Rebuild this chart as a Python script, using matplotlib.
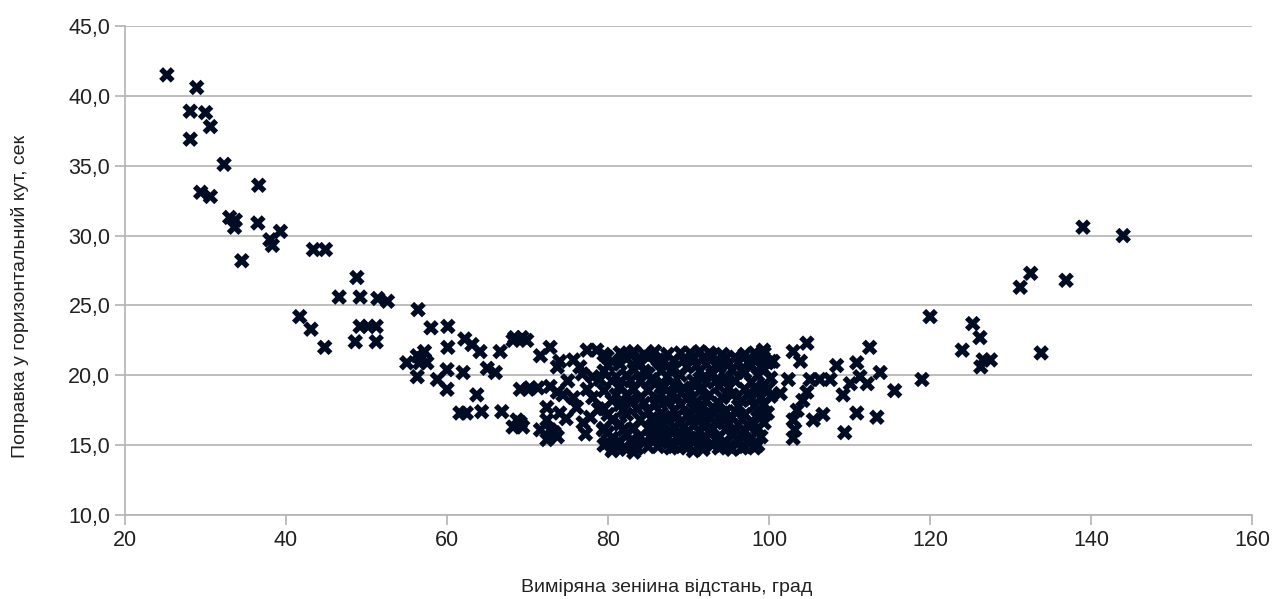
import matplotlib.pyplot as plt
from matplotlib.ticker import FuncFormatter

plt.rcParams['font.family'] = ['Liberation Sans', 'DejaVu Sans']

# measured zenith distance (deg) and horizontal angle correction (sec)
x_left = [25.2, 28.9, 28.1, 30.0, 30.6, 28.1, 32.3, 36.6, 29.4, 30.6, 33.0, 33.7, 33.6, 36.5,
          38.0, 38.3, 39.3, 34.5, 43.4, 44.9, 41.7, 43.1, 44.8, 46.6, 48.8, 49.2, 48.6, 49.2,
          50.2, 51.2, 51.4, 52.6, 51.2, 56.4]
y_left = [41.5, 40.6, 38.9, 38.8, 37.8, 36.9, 35.1, 33.6, 33.1, 32.8, 31.3, 31.1, 30.6, 30.9,
          29.7, 29.3, 30.3, 28.2, 29.0, 29.0, 24.2, 23.3, 22.0, 25.6, 27.0, 25.6, 22.4, 23.5,
          23.5, 23.5, 25.5, 25.3, 22.4, 24.7]

x_mid = [58.0, 60.1, 55.0, 56.3, 56.6, 57.5, 56.3, 62.2, 63.1, 64.1, 60.1, 60.0, 58.8, 60.0,
         62.0, 65.0, 66.0, 63.7, 61.6, 62.4, 64.3, 66.8, 69.1, 68.2, 69.9, 66.6, 69.1, 70.1,
         68.4, 69.3, 72.8, 71.6, 74.0, 73.7, 75.7, 77.4, 78.6, 79.9, 76.5, 70.3, 71.3, 72.8,
         73.7, 74.4, 75.7, 76.1, 77.4, 78.1, 79.0, 78.1, 77.8, 76.9, 68.7, 69.4, 68.2, 72.4,
         72.4, 72.8, 72.4, 73.7, 71.6, 74.0, 79.9, 79.4, 80.6, 57.2, 56.8, 73.3, 75.0, 76.8,
         78.8, 77.2, 74.8]
y_mid = [23.4, 23.5, 20.9, 21.4, 20.9, 20.9, 19.9, 22.6, 22.2, 21.7, 22.0, 20.4, 19.7, 19.0,
         20.2, 20.5, 20.2, 18.6, 17.3, 17.3, 17.4, 17.4, 16.6, 22.5, 22.5, 21.7, 19.0, 19.0,
         22.7, 22.7, 22.0, 21.4, 21.0, 20.6, 21.1, 21.8, 21.8, 21.3, 20.6, 19.1, 19.1, 19.2,
         18.8, 18.6, 18.4, 17.7, 19.0, 18.4, 19.7, 19.9, 17.0, 16.6, 16.8, 16.3, 16.3, 17.7,
         16.8, 16.1, 15.4, 15.6, 16.1, 17.3, 15.2, 16.1, 14.7, 21.7, 21.2, 15.9, 19.6, 20.1,
         17.6, 15.8, 16.9]

# dense cluster, column by column
cluster = {
    79.5: [21.5, 20.3, 18.9, 17.6, 16.2, 15.0],
    80.5: [21.0, 19.6, 18.2, 16.8, 15.5, 14.6],
    81.5: [21.6, 20.8, 19.2, 17.9, 16.5, 15.2],
    82.3: [21.2, 20.0, 18.6, 17.2, 15.8, 14.7],
    83.2: [21.7, 20.4, 19.0, 16.2, 15.0, 14.5],
    84.0: [20.8, 19.6, 18.4, 16.8, 15.6],
    85.0: [21.3, 20.1, 18.9, 17.4, 16.2, 14.9],
    85.8: [21.7, 19.4, 18.0, 16.6, 15.8],
    86.6: [20.3, 18.6, 17.3, 16.0, 15.2],
    87.4: [21.5, 19.9, 18.1, 16.8, 15.5],
    88.2: [21.0, 20.5, 19.3, 17.5, 16.3, 14.9],
    89.0: [21.6, 20.0, 17.9, 16.6, 15.3],
    89.8: [20.6, 18.3, 17.1, 15.9, 14.8],
    90.6: [21.3, 19.6, 17.6, 16.4, 15.2, 14.6],
    91.4: [21.7, 20.3, 18.9, 17.2, 16.0, 15.0],
    92.2: [20.8, 19.5, 18.2, 16.6, 15.5],
    93.0: [21.4, 20.1, 17.7, 16.2, 15.0],
    93.8: [20.6, 19.2, 18.0, 16.9, 15.6, 14.8],
    94.6: [21.2, 19.8, 17.4, 16.1, 15.2],
    95.4: [20.4, 18.6, 17.0, 15.8, 14.7],
    96.2: [20.9, 17.8, 16.5, 15.3],
    97.0: [21.5, 20.2, 19.0, 17.2, 16.0, 14.9],
    97.8: [20.7, 19.5, 18.3, 16.7, 15.5],
    98.6: [21.2, 20.0, 18.8, 17.5, 16.2, 15.0],
    99.4: [21.6, 20.4, 19.3, 17.9, 16.6],
    100.2: [21.0, 19.8, 18.5],
}
# second, offset set of cluster points
cluster2 = {
    80.0: [20.7, 17.2, 15.9],
    81.0: [19.9, 18.6, 15.0],
    81.9: [21.4, 17.5, 16.1],
    82.8: [19.6, 18.2, 15.3],
    83.6: [21.0, 17.6, 14.8],
    84.5: [21.5, 20.3, 18.0, 15.2],
    85.4: [19.7, 16.9, 15.5],
    86.2: [21.1, 18.3, 16.4, 14.9],
    87.0: [21.0, 19.2, 17.0, 15.8],
    87.8: [20.3, 18.6, 16.0, 14.8],
    88.6: [18.4, 17.1, 15.6],
    89.4: [21.1, 19.1, 16.3, 15.0],
    90.2: [21.6, 18.9, 17.3, 15.5],
    91.0: [20.7, 18.1, 16.8, 15.5],
    91.8: [21.2, 19.8, 17.8, 15.3, 14.7],
    92.6: [21.6, 18.6, 17.0, 15.9],
    93.4: [20.7, 19.6, 16.6, 15.4],
    94.2: [21.5, 18.4, 17.3, 15.0],
    95.0: [20.8, 19.1, 16.5, 14.9],
    95.8: [21.3, 19.6, 17.4, 16.1],
    96.6: [20.3, 18.2, 15.7, 14.8],
    97.4: [20.9, 18.6, 16.4, 15.2],
    98.2: [21.6, 19.1, 17.8, 14.8],
    99.0: [20.6, 18.4, 17.0, 15.6],
    99.8: [20.9, 19.0, 17.3],
}

x_right = [99.3, 100.5, 103.0, 104.7, 103.9, 102.4, 101.4, 105.1, 106.3, 107.6, 104.7, 104.2,
           103.5, 103.0, 103.2, 103.0, 105.5, 106.7, 108.4, 110.9, 112.5, 110.1, 109.2, 111.3,
           112.2, 113.8, 110.9, 113.4, 109.4, 115.6, 119.0, 120.0, 124.0, 125.3, 126.2, 126.6,
           126.3, 127.5, 131.2, 132.5, 133.8, 136.9, 139.0, 144.0]
y_right = [21.8, 21.0, 21.7, 22.3, 21.0, 19.7, 18.7, 19.7, 19.7, 19.7, 18.8, 18.2,
           17.5, 16.8, 16.1, 15.5, 16.8, 17.2, 20.7, 20.9, 22.0, 19.4, 18.6, 19.9,
           19.4, 20.2, 17.3, 17.0, 15.9, 18.9, 19.7, 24.2, 21.8, 23.7, 22.7, 21.1,
           20.6, 21.1, 26.3, 27.3, 21.6, 26.8, 30.6, 30.0]

x_cluster = [k for c in (cluster, cluster2) for k, v in c.items() for _ in v]
y_cluster = [y for c in (cluster, cluster2) for v in c.values() for y in v]
xs = x_left + x_mid + x_cluster + x_right
ys = y_left + y_mid + y_cluster + y_right

fig = plt.figure(figsize=(12.72, 5.99), dpi=100)
ax = fig.add_axes([0.0983, 0.1402, 0.8860, 0.8164])
ax.scatter(xs, ys, marker='X', s=125, color='#000b24', edgecolors='none', zorder=3)

ax.set_xlim(20, 160)
ax.set_ylim(10, 45)
ax.set_xticks(range(20, 161, 20))
ax.set_yticks(range(10, 46, 5))
ax.yaxis.set_major_formatter(FuncFormatter(lambda v, p: f'{v:.1f}'.replace('.', ',')))
ax.yaxis.grid(True, color='#b3b3b3', lw=1.2)
ax.set_axisbelow(True)
for s in ['top', 'right']:
    ax.spines[s].set_visible(False)
for s in ['left', 'bottom']:
    ax.spines[s].set_color('#b3b3b3')
    ax.spines[s].set_linewidth(1.2)
ax.tick_params(colors='#b3b3b3', labelcolor='#222222', labelsize=15.5, length=7, width=1.2)
ax.set_xlabel('Виміряна зеніина відстань, град', fontsize=14, color='#222222')
ax.set_ylabel('Поправка у горизонтальний кут, сек', fontsize=14, color='#222222')
ax.xaxis.label.set_va('center')
ax.yaxis.label.set_va('center')
ax.xaxis.set_label_coords(0.481, -0.149)
ax.yaxis.set_label_coords(-0.093, 0.446)

fig.savefig('out.png', dpi=100)
